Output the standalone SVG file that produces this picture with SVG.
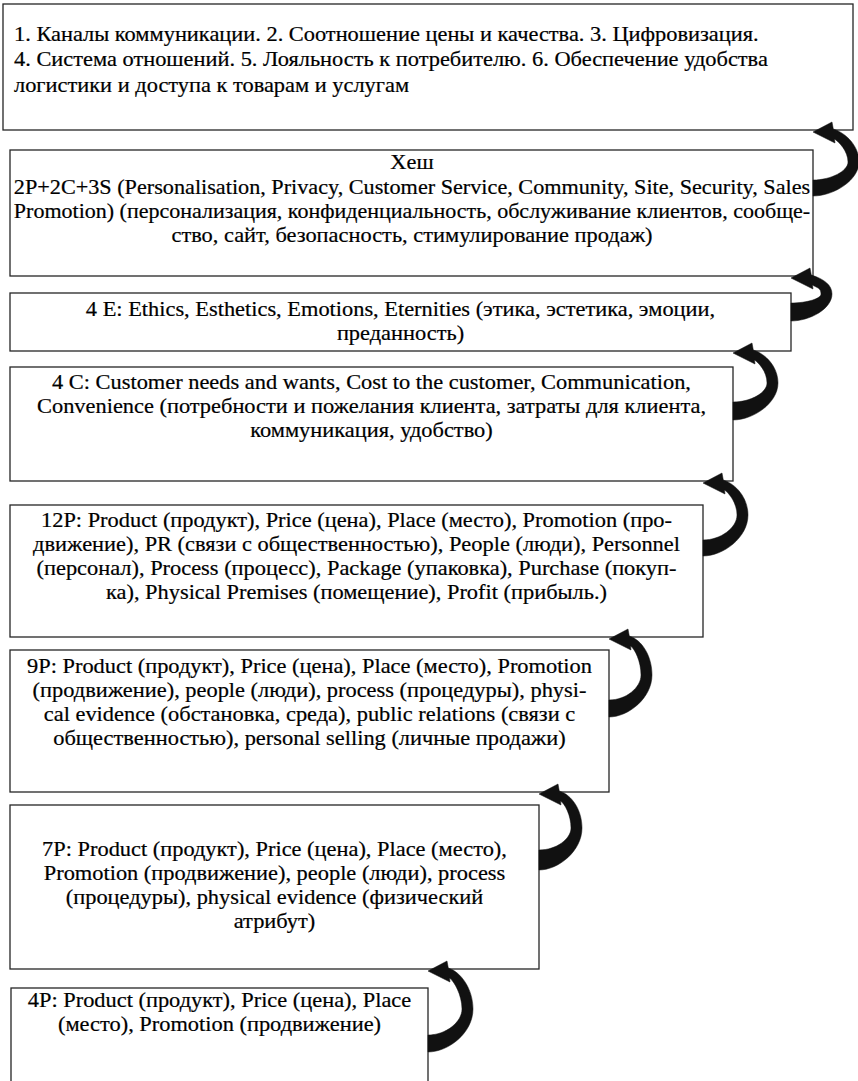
<svg xmlns="http://www.w3.org/2000/svg" width="858" height="1081" viewBox="0 0 858 1081">
<style>
.box{fill:#fff;stroke:#262626;stroke-width:1.3}
text{font-family:"Liberation Serif","Times New Roman",serif;font-size:20px;fill:#000;stroke:#000;stroke-width:0.2}
.c text{text-anchor:middle}
.arrow{fill:#111;stroke:#111;stroke-width:0.5;stroke-linejoin:round}
</style>
<rect width="858" height="1081" fill="#fff"/>
<g id="n1">
<rect class="box" x="3" y="4" width="850" height="126"/>
<g transform="translate(14,0) scale(1.12,1)">
<text x="0" y="41">1. Каналы коммуникации. 2. Соотношение цены и качества. 3. Цифровизация.</text>
<text x="0" y="66.5">4. Система отношений. 5. Лояльность к потребителю. 6. Обеспечение удобства</text>
<text x="0" y="92">логистики и доступа к товарам и услугам</text>
</g>
</g>
<g id="n2">
<rect class="box" x="10" y="150" width="803" height="126"/>
<g class="c" transform="translate(412,0) scale(1.12,1)">
<text x="0" y="169">Хеш</text>
<text x="0" y="194" textLength="711" lengthAdjust="spacingAndGlyphs">2P+2C+3S (Personalisation, Privacy, Customer Service, Community, Site, Security, Sales</text>
<text x="0" y="218" textLength="711" lengthAdjust="spacingAndGlyphs">Promotion) (персонализация, конфиденциальность, обслуживание клиентов, сообще-</text>
<text x="0" y="242">ство, сайт, безопасность, стимулирование продаж)</text>
</g>
</g>
<g id="n3">
<rect class="box" x="10" y="293" width="781" height="58"/>
<g class="c" transform="translate(400.5,0) scale(1.12,1)">
<text x="0" y="316">4 E: Ethics, Esthetics, Emotions, Eternities (этика, эстетика, эмоции,</text>
<text x="0" y="340">преданность)</text>
</g>
</g>
<g id="n4">
<rect class="box" x="10" y="367" width="723" height="114"/>
<g class="c" transform="translate(371.5,0) scale(1.12,1)">
<text x="0" y="389">4 C: Customer needs and wants, Cost to the customer, Communication,</text>
<text x="0" y="413">Convenience (потребности и пожелания клиента, затраты для клиента,</text>
<text x="0" y="437">коммуникация, удобство)</text>
</g>
</g>
<g id="n5">
<rect class="box" x="10" y="505" width="693" height="132"/>
<g class="c" transform="translate(356.5,0) scale(1.12,1)">
<text x="0" y="527">12P: Product (продукт), Price (цена), Place (место), Promotion (про-</text>
<text x="0" y="551">движение), PR (связи с общественностью), People (люди), Personnel</text>
<text x="0" y="575">(персонал), Process (процесс), Package (упаковка), Purchase (покуп-</text>
<text x="0" y="599">ка), Physical Premises (помещение), Profit (прибыль.)</text>
</g>
</g>
<g id="n6">
<rect class="box" x="10" y="650" width="599" height="142"/>
<g class="c" transform="translate(309.5,0) scale(1.12,1)">
<text x="0" y="673">9P: Product (продукт), Price (цена), Place (место), Promotion</text>
<text x="0" y="697">(продвижение), people (люди), process (процедуры), physi-</text>
<text x="0" y="721">cal evidence (обстановка, среда), public relations (связи с</text>
<text x="0" y="745">общественностью), personal selling (личные продажи)</text>
</g>
</g>
<g id="n7">
<rect class="box" x="10" y="805" width="529" height="164"/>
<g class="c" transform="translate(274.5,0) scale(1.12,1)">
<text x="0" y="856">7P: Product (продукт), Price (цена), Place (место),</text>
<text x="0" y="880">Promotion (продвижение), people (люди), process</text>
<text x="0" y="904">(процедуры), physical evidence (физический</text>
<text x="0" y="928">атрибут)</text>
</g>
</g>
<g id="n8">
<rect class="box" x="11" y="988" width="417" height="110"/>
<g class="c" transform="translate(219.5,0) scale(1.12,1)">
<text x="0" y="1007">4P: Product (продукт), Price (цена), Place</text>
<text x="0" y="1031">(место), Promotion (продвижение)</text>
</g>
</g>
<g id="connectors" class="arrow">
<path d="M813,132 L832,122 L833.3,129 C846,133 859,146 859,162 C859,180 834,196 813,196 L813,180 C831,180 848,171 848,162 C848,151 839,142 834.5,139 L835,143 Z"/>
<path d="M791,278 L810,268 L811.3,275 C824,279 832,285 832,294 C832,309 809.5,321 791,321 L791,303 C807.4,303 821,298.5 821,294 C821,287.7 817,288 812.5,285 L813,289 Z"/>
<path d="M733,353 L752,343 L753.3,350 C766,354 778,367 778,383 C778,403 753.3,420 733,420 L733,402 C751,402 767,392.5 767,383 C767,371.8 759,363 754.5,360 L755,364 Z"/>
<path d="M703,483 L722,473 L723.3,480 C736,484 748,498 748,515 C748,537.5 723.3,556 703,556 L703,540 C721,540 737,527.5 737,515 C737,503 729,493 724.5,490 L725,494 Z"/>
<path d="M609,639 L628,629 L629.3,636 C642,640 652,656 652,675 C652,698 628.4,717 609,717 L609,700 C626.2,700 641,687.5 641,675 C641,661.7 635,649 630.5,646 L631,650 Z"/>
<path d="M539,794 L558,784 L559.3,791 C572,795 582,810 582,828 C582,851 558.4,870 539,870 L539,850 C556.2,850 571,839 571,828 C571,815.4 565,804 560.5,801 L561,805 Z"/>
<path d="M428,971 L447,961 L448.3,968 C461,972 473,989 473,1009 C473,1033 448.3,1052 428,1052 L428,1035 C446,1035 462,1022 462,1009 C462,995 454,981 449.5,978 L450,982 Z"/>
</g>
</svg>
